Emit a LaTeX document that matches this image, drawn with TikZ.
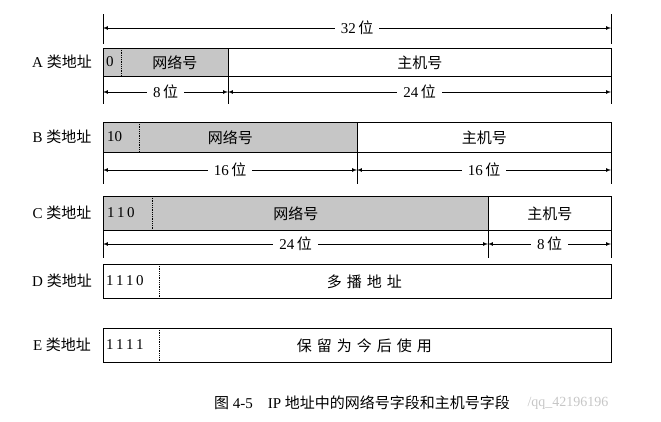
\documentclass[tikz,border=0pt]{standalone}
\usepackage{fontspec}
\setmainfont{Liberation Serif}
\newfontfamily\cjk{Noto Sans CJK SC}
\usetikzlibrary{arrows}

\newcommand{\wei}{\,{\cjk 位}}

\tikzset{
  field/.style = {draw, line width = 0.9pt, inner sep = 0pt, anchor = north west, font = \cjk\fontsize{15}{16}\selectfont},
  net/.style = {field, fill = gray!45},
  dim/.style = {latex-latex, line width = 0.7pt},
  tick/.style = {line width = 0.7pt},
  lbl/.style = {fill = white, inner sep = 6pt, font = \fontsize{15}{16}\selectfont},
  bits/.style = {anchor = west, inner sep = 0pt, font = \fontsize{15}{16}\selectfont}
}

\begin{document}
\begin{tikzpicture}[x = 1pt, y = -1pt]
\useasboundingbox (0,0) rectangle (661,421);
% row labels
\foreach \c/\y in {A/62, B/137, C/213, D/281, E/345}
  \node[font = \fontsize{15}{16}\selectfont] (l\c) at (62,\y) {\c\ {\cjk 类地址}};
% A
\node[net, minimum width = 125, minimum height = 28] (an) at (103,48) {\hspace*{18pt}网络号};
\node[field, minimum width = 383, minimum height = 28] (ah) at (228,48) {主机号};
\node[bits] (ab) at (106,62) {0};
\draw[densely dotted, line width = 0.8pt] (121,48) -- (121,76);
% B
\node[net, minimum width = 254, minimum height = 30] (bn) at (103,122) {网络号};
\node[field, minimum width = 254, minimum height = 30] (bh) at (357,122) {主机号};
\node[bits] (bb) at (107,137) {10};
\draw[densely dotted, line width = 0.8pt] (139,122) -- (139,152);
% C
\node[net, minimum width = 385, minimum height = 34] (cn) at (103,196) {网络号};
\node[field, minimum width = 123, minimum height = 34] (ch) at (488,196) {主机号};
\node[bits] (cb) at (107,213) {1\,1\,0};
\draw[densely dotted, line width = 0.8pt] (152,196) -- (152,230);
% D
\node[field, minimum width = 508, minimum height = 34] (dd) at (103,264) {\hspace*{14pt}多\,\,播\,\,地\,\,址};
\node[bits] (db) at (106,281) {1\,1\,1\,0};
\draw[densely dotted, line width = 0.8pt] (159,264) -- (159,298);
% E
\node[field, minimum width = 508, minimum height = 34] (ee) at (103,328) {\hspace*{14pt}保\,\,留\,\,为\,\,今\,\,后\,\,使\,\,用};
\node[bits] (eb) at (106,345) {1\,1\,1\,1};
\draw[densely dotted, line width = 0.8pt] (159,328) -- (159,362);
% dimensions
\coordinate (t0) at (103,28); \coordinate (t32) at (611,28);
\draw[tick] (103,14) -- (103,44) (611,14) -- (611,44);
\draw[dim] (t0) -- node[lbl] {32\wei} (t32);
\coordinate (a0) at (103,92); \coordinate (a8) at (228,92); \coordinate (a32) at (611,92);
\draw[tick] (103,76) -- (103,104) (228,76) -- (228,104) (611,76) -- (611,104);
\draw[dim] (a0) -- node[lbl] {8\wei} (a8);
\draw[dim] (a8) -- node[lbl] {24\wei} (a32);
\coordinate (b0) at (103,170); \coordinate (b16) at (357,170); \coordinate (b32) at (611,170);
\draw[tick] (103,152) -- (103,184) (357,152) -- (357,184) (611,152) -- (611,184);
\draw[dim] (b0) -- node[lbl] {16\wei} (b16);
\draw[dim] (b16) -- node[lbl] {16\wei} (b32);
\coordinate (c0) at (103,244); \coordinate (c24) at (488,244); \coordinate (c32) at (611,244);
\draw[tick] (103,230) -- (103,258) (488,230) -- (488,258) (611,230) -- (611,258);
\draw[dim] (c0) -- node[lbl] {24\wei} (c24);
\draw[dim] (c24) -- node[lbl] {8\wei} (c32);
% caption
\node[font = \fontsize{15}{16}\selectfont] (cap) at (362,403) {{\cjk 图} 4-5\quad IP {\cjk 地址中的网络号字段和主机号字段}};
\node[gray!45, font = \fontsize{14}{15}\selectfont, anchor = west] (wm) at (524,403) {/qq\_42196196};
\end{tikzpicture}
\end{document}
